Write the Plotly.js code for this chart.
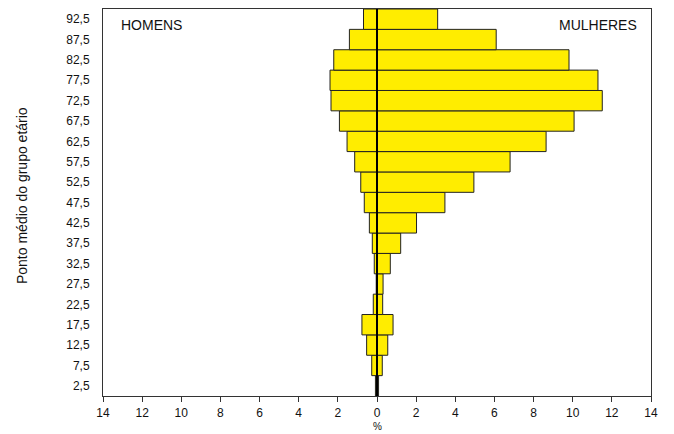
<!DOCTYPE html>
<html>
<head>
<meta charset="utf-8">
<script src="https://cdn.plot.ly/plotly-3.0.1.min.js"></script>
<style>html,body{margin:0;padding:0;background:#fff}#chart{width:674px;height:434px}</style>
</head>
<body>
<div id="chart"></div>
<script>
const ageMidpoints = [2.5, 7.5, 12.5, 17.5, 22.5, 27.5, 32.5, 37.5, 42.5, 47.5, 52.5, 57.5, 62.5, 67.5, 72.5, 77.5, 82.5, 87.5, 92.5];
const ageLabels = ["2,5","7,5","12,5","17,5","22,5","27,5","32,5","37,5","42,5","47,5","52,5","57,5","62,5","67,5","72,5","77,5","82,5","87,5","92,5"];
const homens = [0.08, 0.27, 0.53, 0.77, 0.19, 0.04, 0.14, 0.24, 0.39, 0.65, 0.83, 1.14, 1.53, 1.92, 2.35, 2.40, 2.21, 1.41, 0.69];
const mulheres = [0.08, 0.27, 0.55, 0.82, 0.29, 0.31, 0.68, 1.21, 2.02, 3.47, 4.95, 6.80, 8.64, 10.07, 11.51, 11.29, 9.81, 6.09, 3.10];
const xTickVals = [-14,-12,-10,-8,-6,-4,-2,0,2,4,6,8,10,12,14];
const xTickText = ["14","12","10","8","6","4","2","0","2","4","6","8","10","12","14"];

const barStyle = {color: '#FFED00', line: {color: '#222', width: 1}};
const data = [
  {type: 'bar', orientation: 'h', y: ageMidpoints, x: homens.map(v => -v), width: 5, marker: barStyle, name: 'Homens', hoverinfo: 'skip'},
  {type: 'bar', orientation: 'h', y: ageMidpoints, x: mulheres, width: 5, marker: barStyle, name: 'Mulheres', hoverinfo: 'skip'}
];
const layout = {
  width: 674, height: 434,
  margin: {l: 103, r: 23, t: 9, b: 38},
  paper_bgcolor: '#fff', plot_bgcolor: '#fff',
  showlegend: false,
  barmode: 'overlay',
  font: {family: 'Liberation Sans, Arial, sans-serif', size: 12, color: '#111'},
  xaxis: {
    range: [-14, 14], tickvals: xTickVals, ticktext: xTickText,
    ticks: 'outside', ticklen: 5, tickcolor: '#333', tickwidth: 1,
    ticklabelstandoff: 1,
    showline: true, linecolor: '#333', linewidth: 1, mirror: true,
    showgrid: false, zeroline: false, automargin: false,
    tickfont: {size: 12}
  },
  yaxis: {
    range: [0, 95], tickvals: ageMidpoints, ticktext: ageLabels,
    ticks: 'outside', ticklen: 10, tickcolor: 'rgba(0,0,0,0)',
    showline: true, linecolor: '#333', linewidth: 1, mirror: true,
    showgrid: false, zeroline: false, automargin: false,
    tickfont: {size: 12}
  },
  shapes: [
    {type: 'line', xref: 'x', yref: 'paper', x0: 0, x1: 0, y0: 0, y1: 1, layer: 'above', line: {color: '#000', width: 2}}
  ],
  annotations: [
    {text: 'HOMENS', xref: 'paper', yref: 'paper', x: 0.029, y: 0.985, xanchor: 'left', yanchor: 'top', showarrow: false, font: {size: 14, color: '#111'}},
    {text: 'MULHERES', xref: 'paper', yref: 'paper', x: 0.978, y: 0.985, xanchor: 'right', yanchor: 'top', showarrow: false, font: {size: 14, color: '#111'}},
    {text: 'Ponto médio do grupo etário', xref: 'paper', yref: 'paper', x: -0.148, y: 0.519, xanchor: 'center', yanchor: 'middle', textangle: -90, showarrow: false, font: {size: 14, color: '#111'}},
    {text: '%', xref: 'x', yref: 'paper', x: 0, y: -0.098, xanchor: 'center', yanchor: 'bottom', showarrow: false, font: {size: 10, color: '#111'}}
  ]
};
Plotly.newPlot('chart', data, layout, {displayModeBar: false, staticPlot: true});
</script>
</body>
</html>
